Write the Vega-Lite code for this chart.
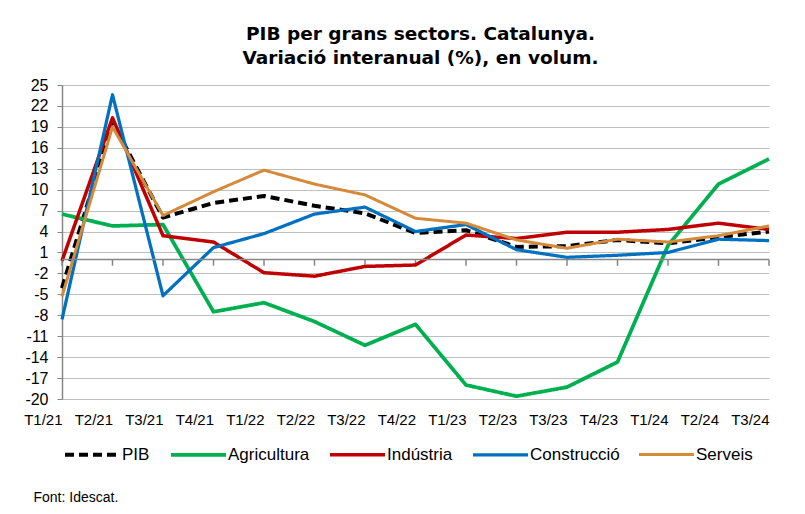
{
  "$schema": "https://vega.github.io/schema/vega-lite/v6.json",
  "width": 707,
  "height": 314,
  "autosize": {"type": "none"},
  "padding": {"left": 62, "top": 85, "right": 36, "bottom": 115},
  "background": "white",
  "title": {
    "text": ["PIB per grans sectors. Catalunya.", "Variació interanual (%), en volum."],
    "font": "DejaVu Sans",
    "fontSize": 18.5,
    "fontWeight": "bold",
    "color": "#000000",
    "lineHeight": 24,
    "anchor": "middle",
    "offset": 10,
    "dx": 5
  },
  "data": {
    "values": [
      {"q": "T1/21", "PIB": -4.1, "Agricultura": 6.5, "Indústria": -0.2, "Construcció": -8.6, "Serveis": -5.3},
      {"q": "T2/21", "PIB": 19.7, "Agricultura": 4.8, "Indústria": 20.3, "Construcció": 23.6, "Serveis": 19.0},
      {"q": "T3/21", "PIB": 6.0, "Agricultura": 5.0, "Indústria": 3.4, "Construcció": -5.2, "Serveis": 6.3},
      {"q": "T4/21", "PIB": 8.1, "Agricultura": -7.5, "Indústria": 2.5, "Construcció": 1.7, "Serveis": 9.7},
      {"q": "T1/22", "PIB": 9.1, "Agricultura": -6.2, "Indústria": -1.9, "Construcció": 3.7, "Serveis": 12.8},
      {"q": "T2/22", "PIB": 7.7, "Agricultura": -8.9, "Indústria": -2.4, "Construcció": 6.5, "Serveis": 10.8},
      {"q": "T3/22", "PIB": 6.6, "Agricultura": -12.3, "Indústria": -1.0, "Construcció": 7.5, "Serveis": 9.25},
      {"q": "T4/22", "PIB": 3.8, "Agricultura": -9.3, "Indústria": -0.8, "Construcció": 4.0, "Serveis": 5.9},
      {"q": "T1/23", "PIB": 4.2, "Agricultura": -18.0, "Indústria": 3.5, "Construcció": 5.0, "Serveis": 5.2},
      {"q": "T2/23", "PIB": 1.8, "Agricultura": -19.6, "Indústria": 3.0, "Construcció": 1.4, "Serveis": 2.8},
      {"q": "T3/23", "PIB": 1.9, "Agricultura": -18.3, "Indústria": 3.9, "Construcció": 0.3, "Serveis": 1.6},
      {"q": "T4/23", "PIB": 2.8, "Agricultura": -14.7, "Indústria": 3.9, "Construcció": 0.6, "Serveis": 2.9},
      {"q": "T1/24", "PIB": 2.3, "Agricultura": 2.0, "Indústria": 4.3, "Construcció": 1.0, "Serveis": 2.5},
      {"q": "T2/24", "PIB": 3.2, "Agricultura": 10.8, "Indústria": 5.2, "Construcció": 2.9, "Serveis": 3.4},
      {"q": "T3/24", "PIB": 4.0, "Agricultura": 14.4, "Indústria": 4.3, "Construcció": 2.7, "Serveis": 4.8}
    ]
  },
  "layer": [
    {
      "mark": {"type": "rule", "color": "#868686", "strokeWidth": 1.5},
      "encoding": {
        "x": {"field": "q", "type": "ordinal"},
        "y": {
          "datum": 0,
          "type": "quantitative",
          "scale": {"domain": [-20, 25], "nice": false, "zero": false},
          "axis": {
            "title": null,
            "values": [-20, -17, -14, -11, -8, -5, -2, 1, 4, 7, 10, 13, 16, 19, 22, 25],
            "labelExpr": "'' + datum.value",
            "labelOverlap": false,
            "labelFont": "Liberation Sans",
            "labelFontSize": 16,
            "labelColor": "#000000",
            "labelPadding": 9,
            "tickSize": 5,
            "tickColor": "#868686",
            "domainColor": "#868686",
            "domainWidth": 1.5,
            "grid": true,
            "gridColor": "#BFBFBF",
            "gridWidth": 1
          }
        },
        "y2": {"datum": -0.9}
      }
    },
    {
      "transform": [
        {"fold": ["PIB", "Agricultura", "Indústria", "Construcció", "Serveis"], "as": ["serie", "valor"]}
      ],
      "mark": {"type": "line", "strokeJoin": "round"},
      "encoding": {
        "x": {
          "field": "q",
          "type": "ordinal",
          "scale": {
            "type": "point",
            "padding": 0,
            "domain": ["T1/21", "T2/21", "T3/21", "T4/21", "T1/22", "T2/22", "T3/22", "T4/22", "T1/23", "T2/23", "T3/23", "T4/23", "T1/24", "T2/24", "T3/24"]
          },
          "axis": {
            "title": "Font: Idescat.",
            "titleFont": "Liberation Sans",
            "titleFontSize": 14,
            "titleFontWeight": "normal",
            "titleColor": "#000000",
            "titleAnchor": "start",
            "titleAlign": "left",
            "titleBaseline": "middle",
            "titleX": -29,
            "titleY": 98,
            "labelAngle": 0,
            "labelFont": "Liberation Sans",
            "labelFontSize": 15,
            "labelColor": "#000000",
            "labelPadding": 20,
            "labelOverlap": false,
            "ticks": false,
            "domain": false,
            "grid": false
          }
        },
        "y": {
          "field": "valor",
          "type": "quantitative",
          "scale": {"domain": [-20, 25], "nice": false, "zero": false},
          "axis": {
            "title": null,
            "values": [-20, -17, -14, -11, -8, -5, -2, 1, 4, 7, 10, 13, 16, 19, 22, 25],
            "labelExpr": "'' + datum.value",
            "labelOverlap": false,
            "labelFont": "Liberation Sans",
            "labelFontSize": 16,
            "labelColor": "#000000",
            "labelPadding": 9,
            "tickSize": 5,
            "tickColor": "#868686",
            "domainColor": "#868686",
            "domainWidth": 1.5,
            "grid": true,
            "gridColor": "#BFBFBF",
            "gridWidth": 1
          }
        },
        "color": {
          "field": "serie",
          "type": "nominal",
          "scale": {
            "domain": ["PIB", "Agricultura", "Indústria", "Construcció", "Serveis"],
            "range": ["#000000", "#00B050", "#C00000", "#0070C0", "#D58A3A"]
          },
          "legend": {
            "title": null,
            "orient": "none",
            "legendX": 1,
            "legendY": 340,
            "direction": "horizontal",
            "columns": 5,
            "symbolType": "stroke",
            "symbolSize": 3025,
            "symbolStrokeWidth": 4,
            "labelFont": "Liberation Sans",
            "labelFontSize": 17,
            "labelColor": "#000000",
            "labelOffset": 0,
            "columnPadding": 13,
            "padding": 0
          }
        },
        "strokeDash": {
          "field": "serie",
          "type": "nominal",
          "scale": {
            "domain": ["PIB", "Agricultura", "Indústria", "Construcció", "Serveis"],
            "range": [[9, 5], [1, 0], [1, 0], [1, 0], [1, 0]]
          },
          "legend": {
            "title": null,
            "orient": "none",
            "legendX": 1,
            "legendY": 340,
            "direction": "horizontal",
            "columns": 5,
            "symbolType": "stroke",
            "symbolSize": 3025,
            "symbolStrokeWidth": 4,
            "labelFont": "Liberation Sans",
            "labelFontSize": 17,
            "labelColor": "#000000",
            "labelOffset": 0,
            "columnPadding": 13,
            "padding": 0
          }
        },
        "strokeWidth": {
          "field": "serie",
          "type": "nominal",
          "scale": {
            "domain": ["PIB", "Agricultura", "Indústria", "Construcció", "Serveis"],
            "range": [4, 3, 3, 3, 3]
          },
          "legend": null
        }
      }
    },
    {
      "data": {"values": [{}]},
      "mark": {"type": "rule", "color": "#868686", "strokeWidth": 1.5},
      "encoding": {
        "x": {"datum": "T1/21"},
        "x2": {"datum": "T3/24"},
        "y": {
          "datum": 0,
          "type": "quantitative",
          "scale": {"domain": [-20, 25], "nice": false, "zero": false},
          "axis": {
            "title": null,
            "values": [-20, -17, -14, -11, -8, -5, -2, 1, 4, 7, 10, 13, 16, 19, 22, 25],
            "labelExpr": "'' + datum.value",
            "labelOverlap": false,
            "labelFont": "Liberation Sans",
            "labelFontSize": 16,
            "labelColor": "#000000",
            "labelPadding": 9,
            "tickSize": 5,
            "tickColor": "#868686",
            "domainColor": "#868686",
            "domainWidth": 1.5,
            "grid": true,
            "gridColor": "#BFBFBF",
            "gridWidth": 1
          }
        }
      }
    }
  ],
  "config": {
    "view": {"stroke": null}
  }
}
